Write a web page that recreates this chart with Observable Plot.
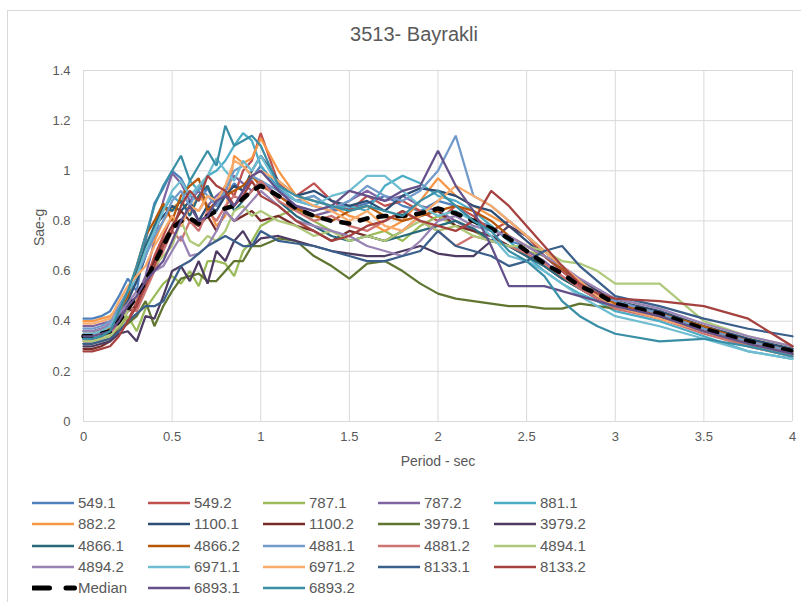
<!DOCTYPE html>
<html>
<head>
<meta charset="utf-8">
<script src="https://cdn.jsdelivr.net/npm/d3@7"></script>
<script src="https://cdn.jsdelivr.net/npm/@observablehq/plot@0.6"></script>
<style>
  body { margin: 0; background: #fff; }
  #wrap { position: relative; width: 801px; height: 602px; overflow: hidden; font-family: "Liberation Sans Narrow", "Liberation Sans", sans-serif; color: #595959; }
  #frame { position: absolute; left: 7px; top: 10px; width: 800px; height: 600px; border: 1px solid #D9D9D9; box-sizing: border-box; }
  #title { position: absolute; left: 0; width: 828px; top: 23px; text-align: center; font-size: 20px; color: #595959; }
  #plot { position: absolute; left: 0; top: 50px; }
  #legend { position: absolute; left: 0; top: 493px; width: 801px; }
  .item { position: absolute; height: 20px; font-size: 15px; line-height: 20px; }
  .item svg { position: absolute; left: 0; top: 0; }
  .item span { position: absolute; left: 46px; top: 0; white-space: nowrap; }
</style>
</head>
<body>
<div id="wrap">
  <div id="frame"></div>
  <div id="title">3513- Bayrakli</div>
  <div id="plot"></div>
  <div id="legend"></div>
</div>
<script>
const periods = [0,0.05,0.1,0.15,0.2,0.25,0.3,0.35,0.4,0.45,0.5,0.55,0.6,0.65,0.7,0.75,0.8,0.85,0.9,0.95,1.0,1.1,1.2,1.3,1.4,1.5,1.6,1.7,1.8,1.9,2.0,2.1,2.2,2.3,2.4,2.5,2.6,2.7,2.8,2.9,3.0,3.25,3.5,3.75,4.0];

const s549_1  = [0.41,0.41,0.42,0.44,0.50,0.57,0.52,0.72,0.87,0.93,1.00,0.97,0.90,0.88,0.93,0.86,0.90,0.95,0.92,0.97,1.02,0.93,0.88,0.86,0.84,0.85,0.87,0.90,0.86,0.84,0.88,0.86,0.80,0.78,0.72,0.70,0.66,0.60,0.55,0.50,0.47,0.42,0.38,0.33,0.29];
const s549_2  = [0.33,0.33,0.34,0.36,0.42,0.40,0.48,0.56,0.66,0.74,0.82,0.78,0.86,0.84,0.90,0.88,0.94,0.90,1.00,1.04,1.15,0.95,0.90,0.95,0.88,0.84,0.90,0.86,0.88,0.84,0.80,0.86,0.82,0.76,0.80,0.74,0.66,0.60,0.54,0.50,0.47,0.43,0.37,0.33,0.28];
const s787_1  = [0.33,0.33,0.34,0.35,0.37,0.42,0.36,0.45,0.50,0.55,0.58,0.55,0.60,0.54,0.64,0.64,0.63,0.58,0.68,0.72,0.78,0.82,0.85,0.80,0.76,0.72,0.74,0.76,0.72,0.78,0.82,0.78,0.76,0.72,0.70,0.68,0.66,0.62,0.56,0.52,0.48,0.44,0.38,0.33,0.29];
const s787_2  = [0.38,0.38,0.39,0.40,0.42,0.46,0.50,0.58,0.72,0.88,0.99,0.95,0.88,0.92,0.86,0.90,0.93,0.98,0.95,0.92,0.96,0.90,0.86,0.82,0.84,0.88,0.92,0.88,0.90,0.86,0.84,0.80,0.76,0.74,0.70,0.68,0.64,0.58,0.53,0.49,0.46,0.42,0.36,0.32,0.28];
const s881_1  = [0.34,0.34,0.35,0.37,0.43,0.50,0.56,0.66,0.76,0.84,0.90,0.87,0.96,0.92,0.98,1.00,1.04,1.10,1.15,1.12,1.02,0.92,0.88,0.90,0.85,0.86,0.84,0.94,0.98,0.95,0.90,0.88,0.84,0.78,0.72,0.66,0.60,0.55,0.51,0.48,0.44,0.40,0.34,0.28,0.25];
const s882_2  = [0.40,0.40,0.41,0.42,0.46,0.52,0.60,0.68,0.72,0.80,0.85,0.88,0.84,0.90,0.86,0.78,0.82,1.06,1.03,1.05,1.13,1.00,0.90,0.88,0.86,0.82,0.80,0.76,0.80,0.88,0.97,0.90,0.86,0.82,0.78,0.74,0.68,0.62,0.56,0.51,0.47,0.42,0.36,0.30,0.26];
const s1100_1 = [0.36,0.36,0.37,0.38,0.42,0.48,0.56,0.66,0.78,0.82,0.86,0.84,0.88,0.80,0.86,0.84,0.90,0.94,0.92,1.00,1.06,0.96,0.90,0.92,0.88,0.86,0.88,0.84,0.90,0.93,0.92,0.90,0.86,0.84,0.78,0.72,0.66,0.61,0.56,0.52,0.48,0.44,0.38,0.33,0.29];
const s1100_2 = [0.29,0.29,0.30,0.32,0.38,0.44,0.46,0.56,0.64,0.72,0.78,0.84,0.80,0.78,0.82,0.76,0.84,0.80,0.82,0.84,0.80,0.82,0.78,0.76,0.72,0.76,0.74,0.72,0.76,0.82,0.84,0.78,0.76,0.74,0.70,0.66,0.62,0.57,0.53,0.49,0.46,0.42,0.36,0.31,0.27];
const s3979_1 = [0.31,0.31,0.32,0.33,0.36,0.39,0.42,0.48,0.38,0.46,0.52,0.57,0.58,0.59,0.56,0.56,0.60,0.64,0.64,0.70,0.70,0.73,0.72,0.66,0.62,0.57,0.63,0.64,0.60,0.55,0.51,0.49,0.48,0.47,0.46,0.46,0.45,0.45,0.47,0.46,0.45,0.42,0.37,0.32,0.28];
const s3979_2 = [0.30,0.30,0.31,0.32,0.35,0.36,0.32,0.42,0.41,0.50,0.60,0.62,0.56,0.64,0.55,0.68,0.64,0.72,0.76,0.70,0.73,0.74,0.72,0.70,0.68,0.67,0.66,0.66,0.68,0.70,0.67,0.66,0.66,0.72,0.78,0.74,0.68,0.62,0.56,0.52,0.48,0.43,0.37,0.32,0.28];
const s4866_1 = [0.33,0.33,0.34,0.36,0.45,0.52,0.60,0.70,0.78,0.86,0.84,0.88,0.82,0.90,0.94,0.86,0.92,0.84,0.88,0.92,0.96,0.88,0.82,0.78,0.74,0.72,0.74,0.72,0.74,0.76,0.78,0.80,0.77,0.72,0.70,0.66,0.62,0.57,0.53,0.49,0.46,0.41,0.36,0.31,0.27];
const s4866_2 = [0.35,0.35,0.36,0.37,0.44,0.50,0.62,0.74,0.80,0.87,0.80,0.90,0.94,0.97,0.84,0.88,0.90,0.92,0.94,0.98,0.94,0.90,0.85,0.82,0.80,0.84,0.86,0.82,0.80,0.82,0.84,0.86,0.84,0.80,0.74,0.70,0.66,0.61,0.56,0.51,0.47,0.43,0.38,0.32,0.28];
const s4881_1 = [0.37,0.37,0.38,0.40,0.46,0.52,0.58,0.66,0.74,0.80,0.88,0.92,0.86,0.94,0.90,0.86,0.92,1.00,1.02,0.98,0.96,0.92,0.88,0.90,0.85,0.88,0.94,0.90,0.88,0.92,1.00,1.14,0.90,0.86,0.80,0.74,0.68,0.62,0.56,0.51,0.48,0.43,0.37,0.32,0.28];
const s4881_2 = [0.32,0.32,0.33,0.34,0.40,0.46,0.44,0.52,0.60,0.68,0.76,0.72,0.80,0.76,0.84,0.80,0.86,0.90,0.88,0.92,0.96,0.88,0.84,0.80,0.82,0.78,0.76,0.80,0.84,0.80,0.76,0.70,0.74,0.72,0.70,0.67,0.63,0.58,0.53,0.49,0.45,0.41,0.35,0.30,0.26];
const s4894_1 = [0.32,0.32,0.33,0.34,0.38,0.44,0.50,0.56,0.62,0.66,0.70,0.80,0.72,0.70,0.74,0.72,0.76,0.84,0.86,0.82,0.84,0.80,0.78,0.74,0.76,0.72,0.74,0.72,0.76,0.80,0.76,0.78,0.74,0.72,0.70,0.70,0.68,0.64,0.63,0.60,0.55,0.55,0.40,0.34,0.30];
const s4894_2 = [0.36,0.36,0.37,0.39,0.43,0.47,0.52,0.56,0.60,0.62,0.68,0.74,0.66,0.67,0.70,0.76,0.84,0.80,0.84,0.88,0.92,0.86,0.80,0.78,0.76,0.74,0.70,0.68,0.66,0.72,0.80,0.82,0.78,0.76,0.74,0.70,0.66,0.62,0.57,0.53,0.49,0.45,0.39,0.34,0.30];
const s6971_1 = [0.35,0.35,0.36,0.38,0.44,0.52,0.58,0.68,0.76,0.84,0.92,0.96,0.90,0.94,0.98,1.05,1.00,0.96,1.04,1.00,1.06,0.94,0.88,0.86,0.90,0.92,0.98,0.98,0.92,0.86,0.82,0.84,0.80,0.74,0.66,0.64,0.60,0.55,0.50,0.46,0.42,0.38,0.33,0.28,0.25];
const s6971_2 = [0.39,0.39,0.40,0.41,0.48,0.54,0.58,0.62,0.70,0.76,0.82,0.78,0.86,0.84,0.90,0.88,0.94,1.04,1.02,0.98,1.00,0.96,0.90,0.86,0.84,0.80,0.84,0.78,0.76,0.82,0.88,0.94,0.90,0.86,0.80,0.74,0.68,0.62,0.56,0.50,0.46,0.41,0.36,0.31,0.27];
const s8133_1 = [0.31,0.31,0.32,0.33,0.36,0.40,0.43,0.46,0.46,0.48,0.55,0.62,0.64,0.67,0.70,0.72,0.74,0.72,0.70,0.70,0.76,0.72,0.71,0.70,0.68,0.66,0.64,0.64,0.66,0.68,0.76,0.70,0.68,0.66,0.62,0.64,0.68,0.70,0.62,0.56,0.50,0.46,0.41,0.37,0.34];
const s8133_2 = [0.28,0.28,0.29,0.30,0.34,0.40,0.46,0.54,0.62,0.70,0.76,0.86,0.92,0.88,0.98,0.94,0.92,0.86,0.90,0.96,0.90,0.86,0.80,0.76,0.72,0.74,0.78,0.80,0.84,0.80,0.78,0.76,0.80,0.92,0.86,0.78,0.70,0.62,0.55,0.51,0.49,0.48,0.46,0.41,0.30];
const median  = [0.34,0.34,0.35,0.36,0.40,0.45,0.50,0.56,0.63,0.70,0.77,0.80,0.81,0.79,0.82,0.84,0.85,0.86,0.89,0.92,0.94,0.90,0.85,0.82,0.80,0.79,0.81,0.82,0.82,0.83,0.85,0.83,0.80,0.77,0.73,0.68,0.63,0.59,0.54,0.51,0.47,0.43,0.37,0.32,0.28];
const s6893_1 = [0.34,0.34,0.35,0.36,0.40,0.46,0.50,0.56,0.60,0.64,0.72,0.80,0.86,0.80,0.82,0.88,0.90,0.86,0.92,0.98,1.00,0.92,0.86,0.84,0.86,0.92,0.90,0.88,0.92,0.94,1.08,0.94,0.84,0.70,0.54,0.54,0.54,0.52,0.50,0.48,0.46,0.42,0.36,0.31,0.27];
const s6893_2 = [0.33,0.33,0.34,0.36,0.44,0.52,0.62,0.74,0.86,0.94,1.00,1.06,0.96,1.02,1.08,1.02,1.18,1.10,1.12,1.14,1.10,0.94,0.90,0.88,0.86,0.84,0.86,0.84,0.82,0.88,0.92,0.86,0.80,0.76,0.68,0.64,0.58,0.48,0.42,0.38,0.35,0.32,0.33,0.30,0.26];

const seriesNames = ["549.1","549.2","787.1","787.2","881.1","882.2","1100.1","1100.2","3979.1","3979.2","4866.1","4866.2","4881.1","4881.2","4894.1","4894.2","6971.1","6971.2","8133.1","8133.2","Median","6893.1","6893.2"];
const seriesValues = [s549_1,s549_2,s787_1,s787_2,s881_1,s882_2,s1100_1,s1100_2,s3979_1,s3979_2,s4866_1,s4866_2,s4881_1,s4881_2,s4894_1,s4894_2,s6971_1,s6971_2,s8133_1,s8133_2,median,s6893_1,s6893_2];
const seriesColors = ["#4F81BD","#C0504D","#9BBB59","#8064A2","#4BACC6","#F79646","#2C4D75","#772C2A","#5F7530","#4D3B62","#276A7C","#B65708","#729ACA","#CD7371","#AFC97A","#9983B5","#6FBDD1","#F9AB6B","#3A5F8B","#A5413E","#000000","#64508A","#3A8FA6"];
const xTicks = [0,0.5,1,1.5,2,2.5,3,3.5,4];
const yTicks = [0,0.2,0.4,0.6,0.8,1,1.2,1.4];

const rows = seriesNames.flatMap((name, i) => periods.map((p, j) => ({series: name, period: p, sa: seriesValues[i][j]})));

const marks = [
  Plot.gridX(xTicks, {stroke: "#D9D9D9", strokeOpacity: 1, strokeWidth: 1}),
  Plot.gridY(yTicks, {stroke: "#D9D9D9", strokeOpacity: 1, strokeWidth: 1}),
  Plot.ruleY([0], {stroke: "#D9D9D9", strokeWidth: 1}),
];
seriesNames.forEach((name, i) => {
  const data = rows.filter(r => r.series === name);
  if (name === "Median") {
    marks.push(Plot.line(data, {x: "period", y: "sa", stroke: "#000", strokeWidth: 4.5, strokeDasharray: "8,11", strokeLinecap: "round"}));
  } else {
    marks.push(Plot.line(data, {x: "period", y: "sa", stroke: seriesColors[i], strokeWidth: 2.25, strokeLinejoin: "miter"}));
  }
});

const chart = Plot.plot({
  width: 801,
  height: 400,
  marginTop: 20,
  marginBottom: 29,
  marginLeft: 83,
  marginRight: 9,
  style: {fontFamily: "'Liberation Sans Narrow', 'Liberation Sans', sans-serif", fontSize: "13px", color: "#595959", background: "transparent"},
  x: {domain: [0, 4], ticks: xTicks, tickFormat: d => String(d), tickSize: 0, tickPadding: 10, label: null},
  y: {domain: [0, 1.4], ticks: yTicks, tickFormat: d => String(d), tickSize: 0, tickPadding: 13, label: null},
  marks: [
    ...marks,
    Plot.text(["Period - sec"], {frameAnchor: "bottom", dy: 44, fontSize: 14, fill: "#595959"}),
    Plot.text(["Sae-g"], {frameAnchor: "left", dx: -44, rotate: -90, fontSize: 14, fill: "#595959"})
  ]
});
chart.style.overflow = "visible";
document.getElementById("plot").appendChild(chart);

// legend
const legend = document.getElementById("legend");
const rowY = [0, 21.3, 42.6, 63.9, 85.2];
const colX = [32, 148, 263, 378, 494];
seriesNames.forEach((name, i) => {
  const r = Math.floor(i / 5), c = i % 5;
  const el = document.createElement("div");
  el.className = "item";
  el.style.left = colX[c] + "px";
  el.style.top = rowY[r] + "px";
  const isMed = name === "Median";
  const line = isMed
    ? `<line x1="1.5" y1="10" x2="42.5" y2="10" stroke="#000" stroke-width="5" stroke-dasharray="16,16.5" stroke-linecap="round"/>`
    : `<line x1="0" y1="10" x2="42" y2="10" stroke="${seriesColors[i]}" stroke-width="2.5"/>`;
  el.innerHTML = `<svg width="46" height="20">${line}</svg><span>${name}</span>`;
  legend.appendChild(el);
});
</script>
</body>
</html>
